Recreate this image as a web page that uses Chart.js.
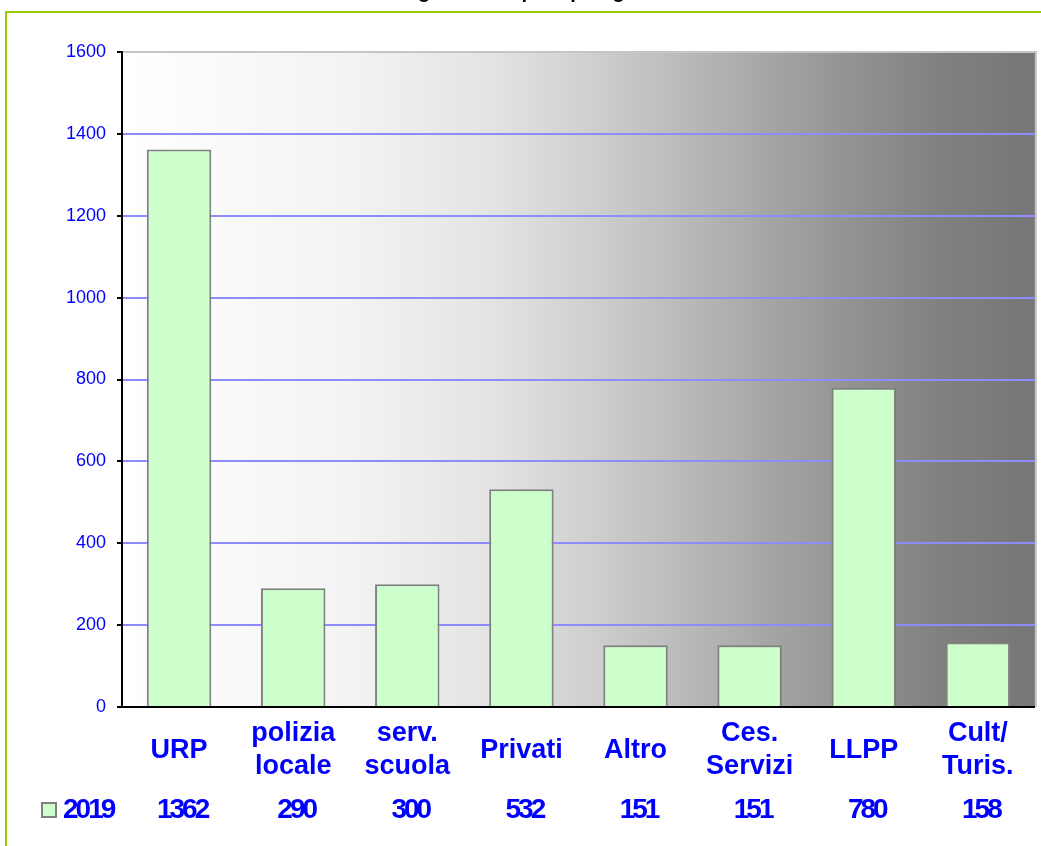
<!DOCTYPE html>
<html>
<head>
<meta charset="utf-8">
<script src="https://cdn.jsdelivr.net/npm/chart.js@4.4.0/dist/chart.umd.min.js"></script>
<style>
  html, body { margin: 0; padding: 0; background: #fff; }
  #wrap { position: relative; width: 1041px; height: 846px; overflow: hidden; }
  #frame { position: absolute; left: 5px; top: 11px; width: 2000px; height: 2000px; border: 2px solid #99cc00; }
  #chart { position: absolute; left: 0; top: -20px; }
</style>
</head>
<body>
<div id="wrap">
  <div id="frame"></div>
  <canvas id="chart" width="1041" height="866"></canvas>
</div>
<script>
// data
const categories = ['URP', ['polizia', 'locale'], ['serv.', 'scuola'], 'Privati', 'Altro', ['Ces.', 'Servizi'], 'LLPP', ['Cult/', 'Turis.']];
const seriesName = '2019';
const values2019 = [1362, 290, 300, 532, 151, 151, 780, 158];
const yMin = 0;
const yMax = 1600;
const yStep = 200;
const titleText = 'Segnalazioni per tipologia';

const FONT = '"Liberation Sans", Arial, sans-serif';
const BLUE = '#0000ff';

// plot area gradient, white on the left to dark grey on the right
const plotBackground = {
  id: 'plotBackground',
  beforeDraw(chart) {
    const { ctx, chartArea: a } = chart;
    const g = ctx.createLinearGradient(a.left, 0, a.right, 0);
    [[0, '#ffffff'], [0.25, '#f3f3f3'], [0.4, '#e4e4e4'], [0.5, '#d2d2d2'], [0.6, '#bdbdbd'],
     [0.7, '#a7a7a7'], [0.8, '#929292'], [0.9, '#808080'], [1, '#767676']]
      .forEach(s => g.addColorStop(s[0], s[1]));
    ctx.save();
    ctx.fillStyle = g;
    ctx.fillRect(a.left, a.top, a.right - a.left, a.bottom - a.top);
    ctx.strokeStyle = '#c4c4cc';
    ctx.lineWidth = 2;
    ctx.beginPath();
    ctx.moveTo(a.right + 1, a.top - 1);
    ctx.lineTo(a.right + 1, a.bottom);
    ctx.stroke();
    ctx.restore();
  }
};

// data table row under the category labels: legend key + values
const dataTable = {
  id: 'dataTable',
  afterDraw(chart) {
    const { ctx } = chart;
    const x = chart.scales.x;
    const ds = chart.data.datasets[0];
    const base = 838;
    ctx.save();
    ctx.font = 'bold 28px ' + FONT;
    ctx.letterSpacing = '-3px';
    ctx.fillStyle = BLUE;
    ctx.textBaseline = 'alphabetic';
    ctx.textAlign = 'center';
    ds.data.forEach((v, i) => ctx.fillText(String(v), x.getPixelForValue(i) + 3, base));

    ctx.fillStyle = ds.backgroundColor;
    ctx.fillRect(42, base - 15, 14, 14);
    ctx.strokeStyle = ds.borderColor;
    ctx.lineWidth = 2;
    ctx.strokeRect(42, base - 15, 14, 14);

    ctx.textAlign = 'left';
    ctx.fillStyle = BLUE;
    ctx.fillText(ds.label, 63, base);
    ctx.restore();
  }
};

new Chart(document.getElementById('chart'), {
  type: 'bar',
  data: {
    labels: categories,
    datasets: [{
      label: seriesName,
      data: values2019,
      backgroundColor: '#ccffcc',
      borderColor: '#808080',
      borderWidth: 2,
      barPercentage: 0.565,
      categoryPercentage: 1
    }]
  },
  options: {
    responsive: false,
    animation: false,
    devicePixelRatio: 1,
    layout: { padding: { left: 0, right: 6, top: 0, bottom: 0 } },
    plugins: {
      legend: { display: false },
      tooltip: { enabled: false },
      title: {
        display: true,
        text: titleText,
        color: '#000',
        font: { family: FONT, size: 20, weight: 'bold' },
        padding: { top: 0, bottom: 48 }
      }
    },
    scales: {
      x: {
        z: 1,
        grid: { display: false, drawTicks: false },
        border: { color: '#000', width: 2 },
        ticks: {
          color: BLUE,
          font: { family: FONT, size: 27, weight: 'bold', lineHeight: 1.22 },
          padding: 27,
          autoSkip: false,
          maxRotation: 0,
          crossAlign: 'center'
        },
        afterFit: s => { s.height = 139; }
      },
      y: {
        min: yMin,
        max: yMax,
        ticks: {
          stepSize: yStep,
          color: BLUE,
          font: { family: FONT, size: 18 },
          padding: 11,
          callback: v => String(v)
        },
        grid: {
          color: c => (c.tick && c.tick.value === yMax) ? '#c4c4cc' : '#8c8cff',
          lineWidth: 2,
          tickColor: '#000',
          tickLength: 5,
          tickWidth: 2
        },
        border: { color: '#000', width: 2 },
        afterFit: s => { s.width = 122; }
      }
    }
  },
  plugins: [plotBackground, dataTable]
});
</script>
</body>
</html>
